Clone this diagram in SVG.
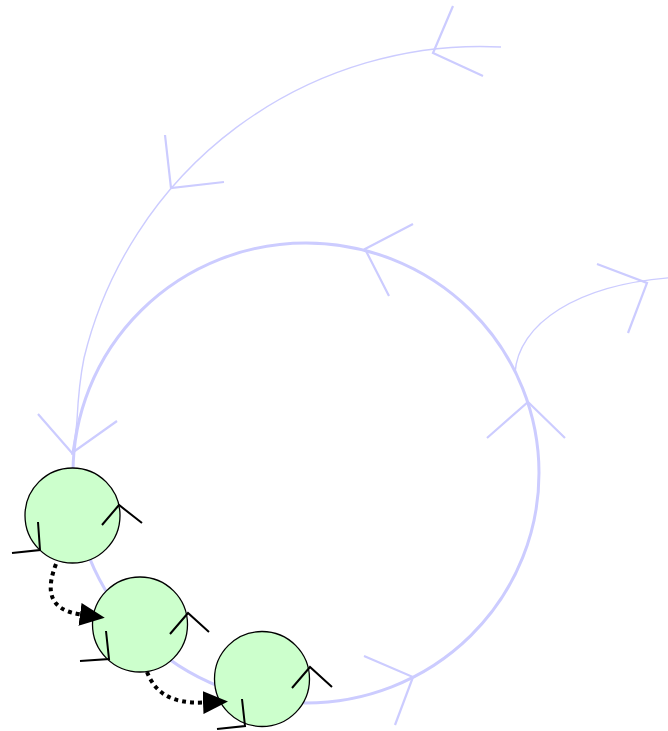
<svg xmlns="http://www.w3.org/2000/svg" width="668" height="731" viewBox="0 0 668 731">
  <style>
    .loop { fill: none; stroke: #ccccff; stroke-width: 3; }
    .arc { fill: none; stroke: #ccccff; stroke-width: 1.4; }
    .bh { fill: none; stroke: #ccccff; stroke-width: 2.2; stroke-linejoin: miter; }
    .node { fill: #ccffcc; stroke: #000; stroke-width: 1.3; }
    .kh { fill: none; stroke: #000; stroke-width: 2; stroke-linejoin: miter; }
    .dot { fill: none; stroke: #000; stroke-width: 4; stroke-dasharray: 4 4; }
  </style>
  <defs>
    <marker id="ah" markerUnits="userSpaceOnUse" viewBox="0 0 25 23" markerWidth="25" markerHeight="23" refX="1" refY="11.5" orient="auto">
      <path d="M0,0 L25,11.5 L0,23 Z" fill="#000"/>
    </marker>
  </defs>

  <g id="connectors">
    <ellipse class="loop" cx="306" cy="473" rx="233" ry="230"/>
    <path class="arc" d="M501,47 A408,408 0 0 0 84,358 C80,378 78,400 77,420 C76,435 73,445 72,455"/>
    <path class="arc" d="M515,373 C518,325 575,283 680,277"/>
    <polyline class="bh" points="453,6 433,53 483,76"/>
    <polyline class="bh" points="165,135 171,188 224,182"/>
    <polyline class="bh" points="38,414 72,453 117,421"/>
    <polyline class="bh" points="413,224 365,249 389,296"/>
    <polyline class="bh" points="487,438 528,402 565,438"/>
    <polyline class="bh" points="364,656 413,677 395,725"/>
    <polyline class="bh" points="597,264 647,283 628,333"/>
  </g>

  <g id="node1">
    <circle class="node" cx="72.5" cy="515.5" r="47.5"/>
    <polyline class="kh" points="102,525 119,505 142,523"/>
    <polyline class="kh" points="38,522 40,550 12,553"/>
  </g>
  <g id="node2">
    <circle class="node" cx="140" cy="624.5" r="47.5"/>
    <polyline class="kh" points="170,634 188,613 209,632"/>
    <polyline class="kh" points="106,631 109,659 80,661"/>
  </g>
  <g id="node3">
    <circle class="node" cx="262" cy="679" r="47.5"/>
    <polyline class="kh" points="292,688 310,667 332,687"/>
    <polyline class="kh" points="242,699 245,726 217,729"/>
  </g>

  <g id="dotted-connectors">
    <path class="dot" d="M56,564 C46,590 48,610 81,614.5" marker-end="url(#ah)"/>
    <path class="dot" d="M147,672 C155,692 170,704 204,702.5" marker-end="url(#ah)"/>
  </g>
</svg>
